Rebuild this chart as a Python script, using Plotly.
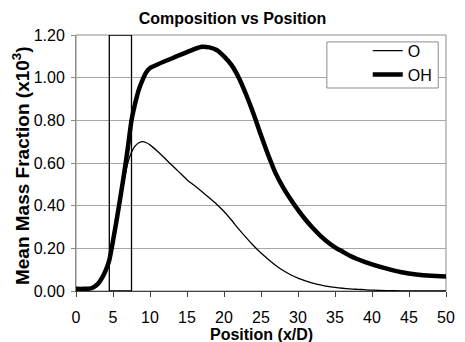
import plotly.graph_objects as go

# ---- data ----
position = [0, 1, 2, 2.5, 3, 3.5, 4, 4.5, 5, 5.5, 6, 6.5, 7, 7.5, 8, 8.5, 9, 9.5, 10,
            11, 12, 13, 14, 15, 16, 17, 18, 19, 20, 21, 22, 23, 24, 25, 26, 27, 28, 29, 30,
            31, 32, 33, 34, 35, 36, 37, 38, 39, 40, 42, 44, 46, 48, 50]
o_values = [0.005, 0.005, 0.008, 0.015, 0.03, 0.055, 0.09, 0.14, 0.23, 0.33, 0.43, 0.52, 0.60, 0.65, 0.68, 0.695, 0.70, 0.695, 0.685,
            0.655, 0.622, 0.588, 0.555, 0.522, 0.494, 0.466, 0.437, 0.407, 0.373, 0.333, 0.29, 0.25, 0.212, 0.178, 0.148, 0.12, 0.096, 0.076, 0.06,
            0.048, 0.037, 0.029, 0.022, 0.017, 0.013, 0.010, 0.008, 0.006, 0.004, 0.002, 0.001, 0.0, 0.0, 0.0]
oh_values = [0.01, 0.01, 0.012, 0.02, 0.035, 0.06, 0.095, 0.145, 0.235, 0.335, 0.44, 0.55, 0.67, 0.80, 0.88, 0.945, 0.99, 1.025, 1.045,
             1.062, 1.077, 1.091, 1.106, 1.12, 1.134, 1.145, 1.142, 1.13, 1.10, 1.06, 1.00, 0.92, 0.83, 0.73, 0.635, 0.55, 0.485, 0.43, 0.38,
             0.335, 0.295, 0.26, 0.23, 0.205, 0.185, 0.165, 0.15, 0.137, 0.125, 0.105, 0.088, 0.077, 0.071, 0.068]
series_names = ["O", "OH"]
region_x = [4.5, 7.5]          # highlighted region (x/D)
x_ticks = [0, 5, 10, 15, 20, 25, 30, 35, 40, 45, 50]
y_ticks = [0.0, 0.2, 0.4, 0.6, 0.8, 1.0, 1.2]
y_tick_labels = ["%.2f" % v for v in y_ticks]

FONT = "Liberation Sans, Arial, sans-serif"

fig = go.Figure()
fig.add_trace(go.Scatter(x=position, y=o_values, name=series_names[0], mode="lines",
                         line=dict(color="black", width=1.3, shape="spline", smoothing=0.6)))
fig.add_trace(go.Scatter(x=position, y=oh_values, name=series_names[1], mode="lines",
                         line=dict(color="black", width=4.5, shape="spline", smoothing=0.6)))

# highlighted region rectangle
fig.add_shape(type="rect", xref="x", yref="y", x0=region_x[0], x1=region_x[1],
              y0=y_ticks[0], y1=y_ticks[-1], line=dict(color="black", width=1.3))
# legend frame
fig.add_shape(type="rect", xref="paper", yref="paper", x0=0.678, x1=0.979, y0=0.793, y1=0.973,
              line=dict(color="#8c8c8c", width=1), fillcolor="white", layer="above")

fig.update_layout(
    width=465, height=342,
    margin=dict(l=76, r=10, t=35, b=51),
    paper_bgcolor="white", plot_bgcolor="white",
    font=dict(family=FONT, size=16, color="black"),
    title=dict(text="<b>Composition vs Position</b>", x=0.5, xref="container", xanchor="center",
               y=1 - 18 / 342, yref="container", yanchor="middle",
               font=dict(family=FONT, size=16, color="black")),
    showlegend=True,
    legend=dict(x=0.975, xanchor="right", y=1.005, yanchor="top", bgcolor="rgba(0,0,0,0)",
                borderwidth=0, font=dict(family=FONT, size=16, color="black"),
                tracegroupgap=0, itemwidth=30),
    xaxis=dict(range=[0, 50], tickvals=x_ticks, ticktext=[str(v) for v in x_ticks],
               showgrid=False, zeroline=False, showline=True, linecolor="#404040", linewidth=1,
               ticks="outside", ticklen=5, tickcolor="#404040", ticklabelstandoff=7,
               mirror=False, tickfont=dict(family=FONT, size=16)),
    yaxis=dict(range=[0, 1.2], tickvals=y_ticks, ticktext=y_tick_labels,
               showgrid=True, gridcolor="#a6a6a6", gridwidth=1, zeroline=False,
               showline=True, linecolor="#8c8c8c", linewidth=1,
               ticks="outside", ticklen=4, tickcolor="#8c8c8c", ticklabelstandoff=3,
               tickfont=dict(family=FONT, size=16)),
    annotations=[
        dict(text="<b>Position (x/D)</b>", xref="paper", yref="paper", x=0.5, y=0,
             xanchor="center", yanchor="middle", yshift=-43, showarrow=False,
             font=dict(family=FONT, size=16, color="black")),
        dict(text="<b>Mean Mass Fraction (x10<sup>3</sup>)</b>", xref="paper", yref="paper",
             x=-0.150, y=0.49, xanchor="center", yanchor="middle", textangle=-90,
             showarrow=False, font=dict(family=FONT, size=19, color="black")),
    ],
)
# plot-area frame (top and right edges)
fig.add_shape(type="rect", xref="paper", yref="paper", x0=0, x1=1, y0=0, y1=1,
              line=dict(color="#8c8c8c", width=1), layer="below")

fig.write_html("out.html")
